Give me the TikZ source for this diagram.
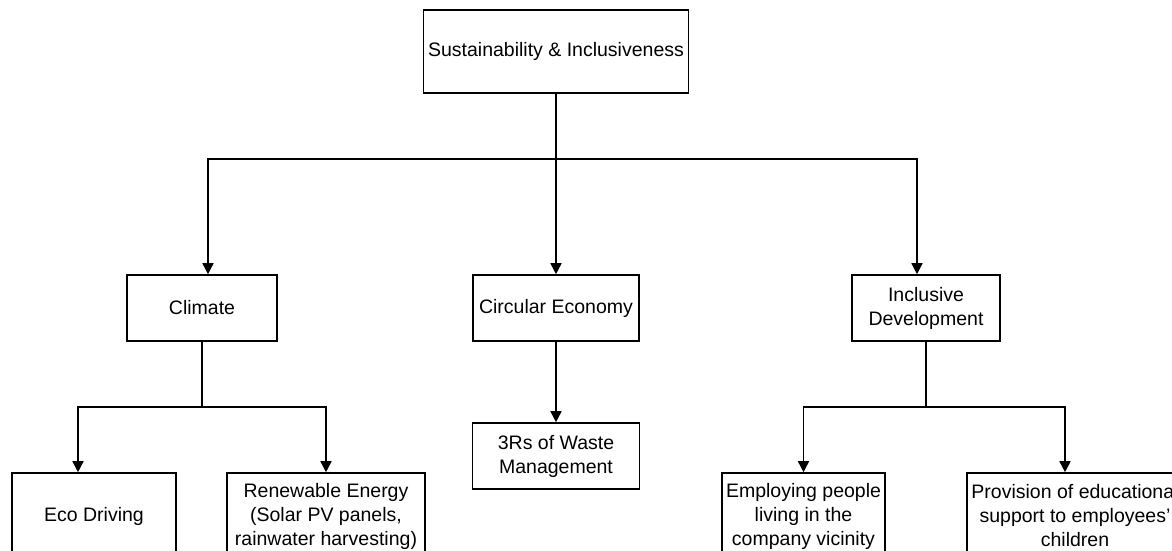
\documentclass[tikz,border=0pt]{standalone}
\usepackage{fontspec}
\setmainfont{Liberation Sans}
\usetikzlibrary{arrows.meta}
\begin{document}
\begin{tikzpicture}[x=1pt,y=-1pt,
  box/.style={draw=black, line width=1.6pt, align=center, inner sep=0pt,
    font=\fontsize{19.5}{24}\selectfont, fill=white},
  conn/.style={draw=black, line width=1.6pt},
  arr/.style={conn, -{Triangle[length=11pt,width=11pt]}}]
\useasboundingbox (0,0) rectangle (1172,551);
\clip (0,0) rectangle (1172,551);
\fill[white] (0,0) rectangle (1172,551);

\node[box, minimum width=265pt, minimum height=83pt] (top) at (556,51.5) {Sustainability \& Inclusiveness};
\node[box, minimum width=150pt, minimum height=66pt] (climate) at (202,308) {Climate};
\node[box, minimum width=166pt, minimum height=66pt] (circ) at (556,308) {Circular Economy};
\node[box, minimum width=148pt, minimum height=66pt] (incl) at (926,308) {Inclusive\\Development};
\node[box, minimum width=164pt, minimum height=86pt] (eco) at (94,516) {Eco Driving};
\node[box, minimum width=198pt, minimum height=86pt] (renew) at (326,516) {Renewable Energy\\(Solar PV panels,\\rainwater harvesting)};
\node[box, minimum width=167pt, minimum height=66pt] (r3) at (556,456) {3Rs of Waste\\Management};
\node[box, minimum width=163pt, minimum height=86pt] (emp) at (803.5,516) {Employing people\\living in the\\company vicinity};
\node[box, minimum width=216pt, minimum height=86pt] (prov) at (1075,516) {Provision of educational\\support to employees'\\children};

\coordinate (jT) at (556,159);
\coordinate (jC) at (202,407);
\coordinate (jI) at (926,407);

\draw[conn] (top.south) -- (jT);
\draw[arr] (jT) -| ([xshift=6pt]climate.north);
\draw[arr] (jT) -- (circ.north);
\draw[arr] (jT) -| ([xshift=-9pt]incl.north);

\draw[conn] (climate.south) -- (jC);
\draw[arr] (jC) -| ([xshift=-16pt]eco.north);
\draw[arr] (jC) -| (renew.north);

\draw[arr] (circ.south) -- (r3.north);

\draw[conn] (incl.south) -- (jI);
\draw[arr] (jI) -| (emp.north);
\draw[arr] (jI) -| ([xshift=-10pt]prov.north);
\end{tikzpicture}
\end{document}
